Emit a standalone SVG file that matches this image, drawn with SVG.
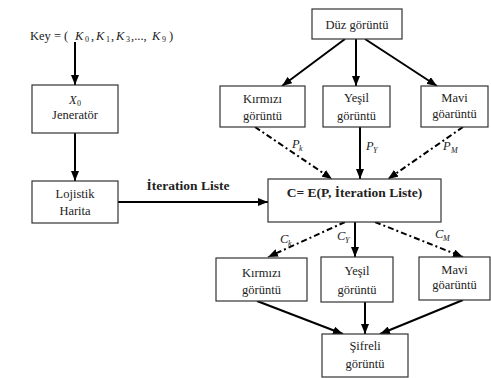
<svg xmlns="http://www.w3.org/2000/svg" width="491" height="378" viewBox="0 0 491 378" font-family="'Liberation Serif', 'DejaVu Serif', serif">
<style>
text{font-family:'Liberation Serif','DejaVu Serif',serif;font-size:12.5px;fill:#222}
.b{font-weight:bold;font-size:13.5px}
.i{font-style:italic}
.s{font-size:8px}
.box{fill:#fff;stroke:#333;stroke-width:1.2}
.c{stroke:#000;stroke-width:2;fill:none}
.d{stroke:#000;stroke-width:2;fill:none;stroke-dasharray:6 3 2 3}
</style>
<defs>
<marker id="ah" markerUnits="userSpaceOnUse" markerWidth="10" markerHeight="8" refX="10" refY="4" orient="auto">
<path d="M0,0 L10,4 L0,8 z" fill="#000"/>
</marker>
</defs>
<rect width="491" height="378" fill="#fff"/>
<g id="connectors">
<line class="c" x1="75" y1="42" x2="75" y2="85" marker-end="url(#ah)"/>
<line class="c" x1="75" y1="133" x2="75" y2="181" marker-end="url(#ah)"/>
<line class="c" x1="118" y1="202" x2="268" y2="202" marker-end="url(#ah)"/>
<line class="c" x1="345" y1="39" x2="282" y2="86" marker-end="url(#ah)"/>
<line class="c" x1="356" y1="39" x2="356" y2="86" marker-end="url(#ah)"/>
<line class="c" x1="365" y1="39" x2="437" y2="86" marker-end="url(#ah)"/>
<line class="d" x1="255" y1="127" x2="332" y2="179" marker-end="url(#ah)"/>
<line class="c" x1="360" y1="127" x2="360" y2="179" marker-end="url(#ah)"/>
<line class="d" x1="463" y1="127" x2="388" y2="179" marker-end="url(#ah)"/>
<line class="d" x1="345" y1="222" x2="268" y2="257" marker-end="url(#ah)"/>
<line class="c" x1="355" y1="222" x2="355" y2="257" marker-end="url(#ah)"/>
<line class="d" x1="375" y1="222" x2="463" y2="257" marker-end="url(#ah)"/>
<line class="c" x1="257" y1="301" x2="343" y2="334" marker-end="url(#ah)"/>
<line class="c" x1="365" y1="302" x2="365" y2="334" marker-end="url(#ah)"/>
<line class="c" x1="463" y1="300" x2="380" y2="334" marker-end="url(#ah)"/>
<text x="188" y="190" class="b" text-anchor="middle">İteration Liste</text>
<text x="292" y="148" class="i">P</text><text x="299" y="151" class="i s">k</text>
<text x="366" y="150" class="i">P</text><text x="373" y="153" class="i s">Y</text>
<text x="443" y="150" class="i">P</text><text x="451" y="153" class="i s">M</text>
<text x="280" y="243" class="i">C</text><text x="288" y="246" class="i s">k</text>
<text x="337" y="240" class="i">C</text><text x="345" y="243" class="i s">Y</text>
<text x="435" y="238" class="i">C</text><text x="443" y="241" class="i s">M</text>
</g>
<g id="key">
<text x="30" y="40">Key = (</text>
<text x="75" y="40" class="i">K</text><text x="85" y="42" class="s">0</text><text x="91" y="40">,</text>
<text x="96" y="40" class="i">K</text><text x="106" y="42" class="s">1</text><text x="111" y="40">,</text>
<text x="116" y="40" class="i">K</text><text x="126" y="42" class="s">3</text><text x="131" y="40">,...,</text>
<text x="152" y="40" class="i">K</text><text x="162" y="42" class="s">9</text><text x="169" y="40">)</text>
</g>
<g id="jenerator">
<rect class="box" x="32" y="85" width="86" height="48"/>
<text x="69" y="104" class="i">X</text><text x="77" y="106" class="s">0</text>
<text x="75" y="119" text-anchor="middle">Jeneratör</text>
</g>
<g id="lojistik">
<rect class="box" x="32" y="181" width="86" height="42"/>
<text x="75" y="198" text-anchor="middle">Lojistik</text>
<text x="75" y="215" text-anchor="middle">Harita</text>
</g>
<g id="duz">
<rect class="box" x="312" y="9" width="90" height="30"/>
<text x="357" y="29" text-anchor="middle">Düz görüntü</text>
</g>
<g id="kirmizi1">
<rect class="box" x="220" y="86" width="85" height="41"/>
<text x="262.5" y="103" text-anchor="middle">Kırmızı</text>
<text x="262.5" y="120" text-anchor="middle">görüntü</text>
</g>
<g id="yesil1">
<rect class="box" x="323" y="86" width="67" height="41"/>
<text x="356.5" y="102" text-anchor="middle">Yeşil</text>
<text x="356.5" y="120" text-anchor="middle">görüntü</text>
</g>
<g id="mavi1">
<rect class="box" x="421" y="86" width="67" height="41"/>
<text x="454.5" y="102" text-anchor="middle">Mavi</text>
<text x="454.5" y="118" text-anchor="middle">göarüntü</text>
</g>
<g id="encrypt">
<rect class="box" x="268" y="179" width="173" height="43"/>
<text x="354.5" y="197" class="b" text-anchor="middle">C= E(P, İteration Liste)</text>
</g>
<g id="kirmizi2">
<rect class="box" x="216" y="258" width="91" height="43"/>
<text x="261.5" y="277" text-anchor="middle">Kırmızı</text>
<text x="261.5" y="294" text-anchor="middle">görüntü</text>
</g>
<g id="yesil2">
<rect class="box" x="321" y="257" width="72" height="45"/>
<text x="357" y="275" text-anchor="middle">Yeşil</text>
<text x="357" y="294" text-anchor="middle">görüntü</text>
</g>
<g id="mavi2">
<rect class="box" x="419" y="257" width="71" height="43"/>
<text x="454.5" y="274" text-anchor="middle">Mavi</text>
<text x="454.5" y="289" text-anchor="middle">göarüntü</text>
</g>
<g id="sifreli">
<rect class="box" x="322" y="334" width="86" height="43"/>
<text x="365" y="350" text-anchor="middle">Şifreli</text>
<text x="365" y="368" text-anchor="middle">görüntü</text>
</g>
</svg>
